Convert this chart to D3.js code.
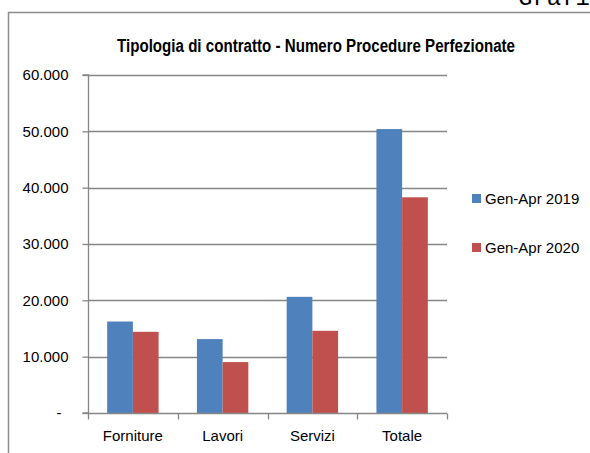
<!DOCTYPE html>
<html>
<head>
<meta charset="utf-8">
<script src="https://cdn.jsdelivr.net/npm/d3@7"></script>
<style>
  html, body { margin: 0; padding: 0; background: #fff; overflow: hidden; }
  svg { display: block; }
  text { font-family: "Liberation Sans Narrow", "Arial Narrow", "Liberation Sans", Arial, sans-serif; fill: #000; }
</style>
</head>
<body>
<svg id="chart" width="590" height="453"></svg>
<script>
// ---- data ----
const categories = ["Forniture", "Lavori", "Servizi", "Totale"];
const seriesNames = ["Gen-Apr 2019", "Gen-Apr 2020"];
const values2019 = [16240, 13120, 20620, 50400];
const values2020 = [14410, 9040, 14590, 38290];
const yTicks = [0, 10000, 20000, 30000, 40000, 50000, 60000];
const seriesColors = ["#4F81BD", "#C0504D"];
const titleText = "Tipologia di contratto - Numero Procedure Perfezionate";

const seriesValues = [values2019, values2020];

const svg = d3.select("#chart");

// frame (partially visible chart border) and cut-off header text
svg.append("text")
  .attr("x", 518).attr("y", 5)
  .style("font-family", "'Liberation Mono', 'DejaVu Sans Mono', monospace")
  .style("font-size", "24px")
  .text("Grafi");
svg.append("path")
  .attr("d", "M8.5,460 V12.5 H600")
  .attr("fill", "none")
  .attr("stroke", "#8c8c8c")
  .attr("stroke-width", 1.5);

// scales
const x = d3.scaleBand().domain(categories).range([88, 447]).paddingInner(0).paddingOuter(0);
const xs = d3.scaleBand().domain(seriesNames).range([0, x.bandwidth()]).paddingInner(0).paddingOuter(0.746);
const y = d3.scaleLinear().domain([0, 60000]).range([413, 75]);

const fmt = v => v === 0 ? "-" : d3.format(",")(v).replace(/,/g, ".");

// gridlines
svg.append("g")
  .selectAll("line")
  .data(yTicks.filter(t => t > 0))
  .join("line")
  .attr("x1", 88).attr("x2", 447)
  .attr("y1", d => Math.round(y(d)) + 0.5).attr("y2", d => Math.round(y(d)) + 0.5)
  .attr("stroke", "#868686").attr("stroke-width", 1.3);

// bars
const groups = svg.append("g")
  .selectAll("g")
  .data(seriesNames)
  .join("g")
  .attr("fill", (d, i) => seriesColors[i]);

groups.selectAll("rect")
  .data((s, si) => categories.map((c, ci) => ({ c, s, v: seriesValues[si][ci] })))
  .join("rect")
  .attr("x", d => x(d.c) + xs(d.s))
  .attr("width", xs.bandwidth())
  .attr("y", d => y(d.v))
  .attr("height", d => y(0) - y(d.v));

// y axis
const yAxis = d3.axisLeft(y).tickValues(yTicks).tickSize(6).tickPadding(14).tickFormat(fmt);
const gy = svg.append("g").attr("transform", "translate(88.5,0)").call(yAxis);
gy.select(".domain").attr("stroke", "#868686").attr("stroke-width", 1.3).attr("d", "M-6," + y(60000) + "H0V" + y(0) + "H-6");
gy.selectAll(".tick line").attr("stroke", "#868686").attr("stroke-width", 1.3);
gy.selectAll(".tick text")
  .style("font-family", "'Liberation Sans', Arial, sans-serif")
  .style("font-size", "15px")
  .attr("fill", "#000")
  .attr("dx", d => d === 0 ? -7 : 0);

// x axis
const xAxis = d3.axisBottom(x).tickSize(0).tickPadding(17);
const gx = svg.append("g").attr("transform", "translate(0,413.5)").call(xAxis);
gx.select(".domain").attr("stroke", "#868686").attr("stroke-width", 1.3).attr("d", "M88,0H447");
gx.selectAll(".tick text")
  .style("font-family", "'Liberation Sans', Arial, sans-serif")
  .style("font-size", "15px")
  .attr("fill", "#000");
// boundary tick marks between categories
gx.append("g").selectAll("line")
  .data(x.range().length ? categories.map(c => x(c)).concat([x.range()[1]]) : [])
  .join("line")
  .attr("x1", d => Math.round(d) + 0.5).attr("x2", d => Math.round(d) + 0.5)
  .attr("y1", 0).attr("y2", 6)
  .attr("stroke", "#868686").attr("stroke-width", 1.3);

// title
svg.append("text")
  .attr("x", 117).attr("y", 52)
  .attr("textLength", 398)
  .attr("lengthAdjust", "spacingAndGlyphs")
  .style("font-family", "'Liberation Sans Narrow', 'Liberation Sans', Arial, sans-serif")
  .style("font-weight", "bold")
  .style("font-size", "18px")
  .text(titleText);

// legend
const legend = svg.append("g")
  .selectAll("g")
  .data(seriesNames)
  .join("g")
  .attr("transform", (d, i) => `translate(472,${194 + i * 49})`);
legend.append("rect")
  .attr("width", 9).attr("height", 9)
  .attr("fill", (d, i) => seriesColors[i]);
legend.append("text")
  .attr("x", 13).attr("y", 10)
  .style("font-family", "'Liberation Sans', Arial, sans-serif")
  .style("font-size", "15px")
  .text(d => d);
</script>
</body>
</html>
